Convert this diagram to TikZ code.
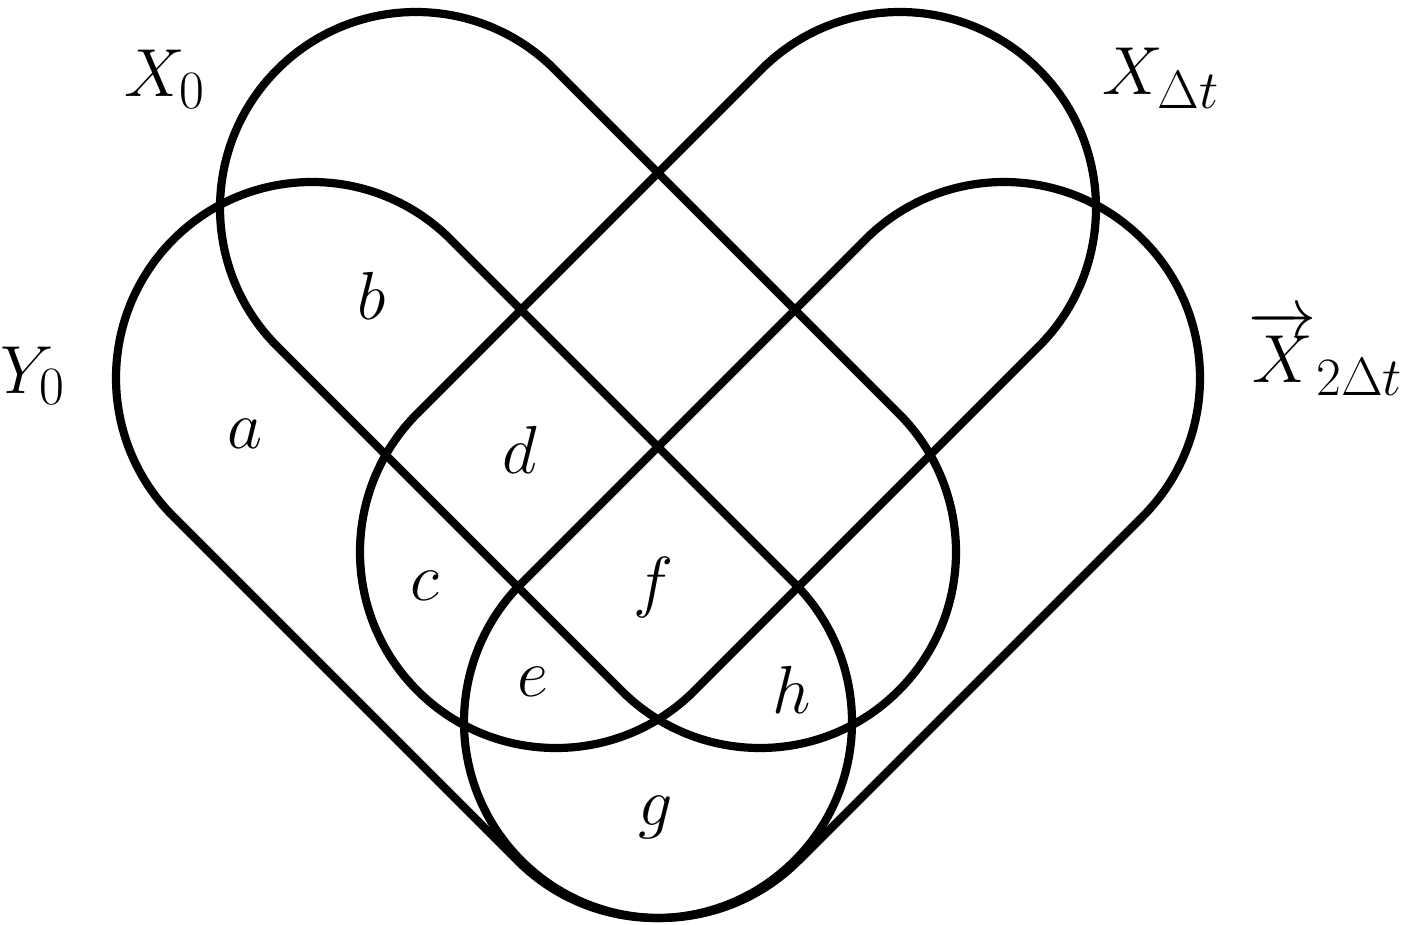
\documentclass[tikz,border=0pt]{standalone}
\usepackage{fix-cm}
\usepackage{amsmath}
\DeclareMathSizes{34}{34}{27}{20}
\begin{document}
\begin{tikzpicture}[x=0.5pt,y=0.5pt,
  setline/.style={line width=4.1pt, line join=round},
  lbl/.style={font=\fontsize{34}{40}\selectfont, inner sep=0pt},
  reg/.style={font=\fontsize{34}{40}\selectfont, inner sep=0pt, anchor=center}]
\useasboundingbox (0,0) rectangle (1408,-925);
\newcommand{\stadium}[3]{%
  \begin{scope}[shift={(#1,#2)}, rotate=#3]
    \draw[setline] (0,196) -- (486.5,196) arc[start angle=90, end angle=-90, radius=196]
      -- (0,-196) arc[start angle=-90, end angle=-270, radius=196] -- cycle;
  \end{scope}}
% X_0
\stadium{416}{-208}{-45}
% X_{Delta t}
\stadium{900}{-208}{-135}
% Y_0
\stadium{312}{-378}{-45}
% X_{2 Delta t}
\stadium{1004}{-378}{-135}
% set labels
\node[lbl, anchor=base west] (lx0) at (124,-97) {$X_0$};
\node[lbl, anchor=base west] (lxdt) at (1102,-95) {$X_{\Delta t}$};
\node[lbl, anchor=base west] (ly0) at (0,-393) {$Y_0$};
\node[lbl, anchor=base west] (lx2dt) at (1248,-382) {$\overrightarrow{X}_{2\Delta t}$};
% region labels
\node[reg] (ra) at (245,-434) {$a$};
\node[reg] (rb) at (372,-296) {$b$};
\node[reg] (rc) at (425,-586) {$c$};
\node[reg] (rd) at (520,-450) {$d$};
\node[reg] (re) at (533,-682) {$e$};
\node[reg] (rf) at (654,-587) {$f$};
\node[reg] (rg) at (656,-817) {$g$};
\node[reg] (rh) at (792,-690) {$h$};
\end{tikzpicture}
\end{document}
